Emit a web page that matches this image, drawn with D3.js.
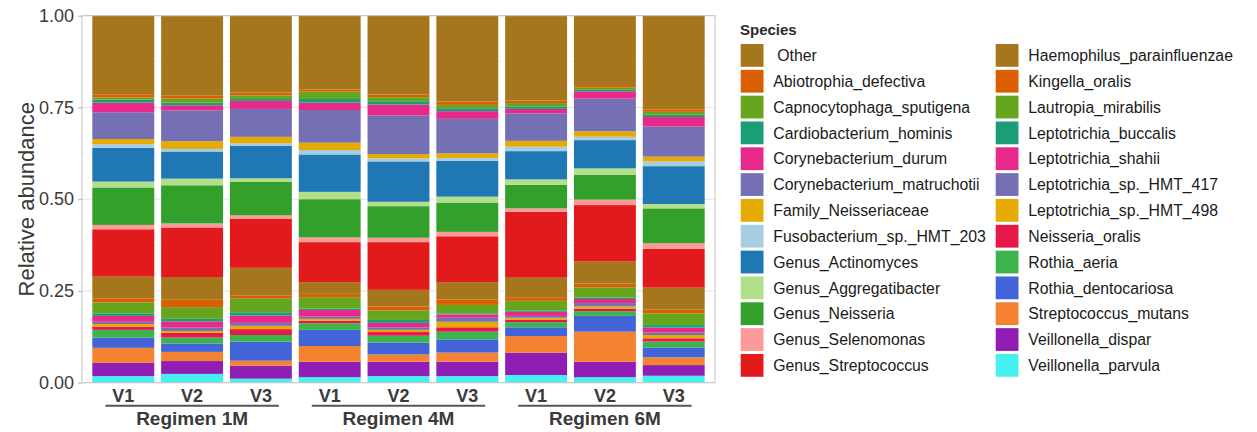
<!DOCTYPE html>
<html>
<head>
<meta charset="utf-8">
<script src="https://cdn.jsdelivr.net/npm/d3@7"></script>
<style>
  html, body { margin: 0; padding: 0; background: #fff; }
  svg { display: block; font-family: "Liberation Sans", Arial, sans-serif; }
</style>
</head>
<body>
<svg id="chart" width="1257" height="432"></svg>
<script>
// Samples: visit within regimen
const regimens = ["Regimen 1M", "Regimen 4M", "Regimen 6M"];
const visits = ["V1", "V2", "V3"];

// Legend order (top of stack first)
const species = [
  "Other", "Abiotrophia_defectiva", "Capnocytophaga_sputigena", "Cardiobacterium_hominis",
  "Corynebacterium_durum", "Corynebacterium_matruchotii", "Family_Neisseriaceae",
  "Fusobacterium_sp._HMT_203", "Genus_Actinomyces", "Genus_Aggregatibacter", "Genus_Neisseria",
  "Genus_Selenomonas", "Genus_Streptococcus", "Haemophilus_parainfluenzae", "Kingella_oralis",
  "Lautropia_mirabilis", "Leptotrichia_buccalis", "Leptotrichia_shahii", "Leptotrichia_sp._HMT_417",
  "Leptotrichia_sp._HMT_498", "Neisseria_oralis", "Rothia_aeria", "Rothia_dentocariosa",
  "Streptococcus_mutans", "Veillonella_dispar", "Veillonella_parvula"
];

const speciesColors = [
  "#A6761D", "#D95F02", "#66A61E", "#1B9E77", "#E7298A", "#7570B3", "#E6AB02",
  "#A6CEE3", "#1F78B4", "#B2DF8A", "#33A02C", "#FB9A99", "#E31A1C",
  "#A6761D", "#D95F02", "#66A61E", "#1B9E77", "#E7298A", "#7570B3", "#E6AB02",
  "#E6194B", "#3CB44B", "#4363D8", "#F58231", "#911EB4", "#46F0F0"
];

// Relative abundance per sample: 1M V1..V3, 4M V1..V3, 6M V1..V3
const other                     = [0.214, 0.217, 0.209, 0.201, 0.215, 0.234, 0.231, 0.189, 0.255];
const abiotrophiaDefectiva      = [0.009, 0.008, 0.008, 0.006, 0.007, 0.009, 0.007, 0.006, 0.007];
const capnocytophagaSputigena   = [0.006, 0.011, 0.010, 0.020, 0.011, 0.009, 0.009, 0.007, 0.008];
const cardiobacteriumHominis    = [0.008, 0.007, 0.005, 0.010, 0.009, 0.008, 0.007, 0.004, 0.006];
const corynebacteriumDurum      = [0.026, 0.014, 0.022, 0.020, 0.030, 0.021, 0.012, 0.020, 0.026];
const corynebacteriumMatruchotii= [0.073, 0.084, 0.076, 0.089, 0.105, 0.094, 0.075, 0.089, 0.082];
const familyNeisseriaceae       = [0.014, 0.021, 0.018, 0.020, 0.012, 0.013, 0.016, 0.015, 0.013];
const fusobacteriumHMT203       = [0.010, 0.007, 0.006, 0.012, 0.008, 0.007, 0.012, 0.009, 0.013];
const genusActinomyces          = [0.092, 0.074, 0.089, 0.102, 0.110, 0.098, 0.077, 0.077, 0.103];
const genusAggregatibacter      = [0.016, 0.018, 0.009, 0.020, 0.012, 0.016, 0.015, 0.018, 0.012];
const genusNeisseria            = [0.102, 0.104, 0.092, 0.104, 0.086, 0.080, 0.064, 0.067, 0.095];
const genusSelenomonas          = [0.012, 0.011, 0.010, 0.013, 0.012, 0.012, 0.009, 0.015, 0.015];
const genusStreptococcus        = [0.129, 0.135, 0.133, 0.109, 0.130, 0.125, 0.180, 0.154, 0.106];
const haemophilusParainfluenzae = [0.059, 0.062, 0.076, 0.032, 0.045, 0.047, 0.053, 0.060, 0.060];
const kingellaOralis            = [0.011, 0.020, 0.007, 0.009, 0.011, 0.015, 0.010, 0.010, 0.010];
const lautropiaMirabilis        = [0.030, 0.032, 0.038, 0.031, 0.026, 0.023, 0.027, 0.028, 0.032];
const leptotrichiaBuccalis      = [0.007, 0.007, 0.009, 0.004, 0.008, 0.003, 0.003, 0.004, 0.007];
const leptotrichiaShahii        = [0.016, 0.017, 0.020, 0.018, 0.012, 0.009, 0.011, 0.011, 0.013];
const leptotrichiaHMT417        = [0.006, 0.009, 0.008, 0.006, 0.007, 0.011, 0.005, 0.009, 0.007];
const leptotrichiaHMT498        = [0.007, 0.005, 0.009, 0.005, 0.006, 0.015, 0.005, 0.006, 0.009];
const neisseriaOralis           = [0.009, 0.013, 0.016, 0.007, 0.010, 0.012, 0.007, 0.007, 0.009];
const rothiaAeria               = [0.021, 0.016, 0.018, 0.018, 0.019, 0.021, 0.014, 0.013, 0.016];
const rothiaDentocariosa        = [0.028, 0.023, 0.052, 0.044, 0.032, 0.036, 0.024, 0.043, 0.027];
const streptococcusMutans       = [0.041, 0.025, 0.014, 0.043, 0.020, 0.025, 0.045, 0.082, 0.021];
const veillonellaDispar         = [0.036, 0.035, 0.035, 0.042, 0.039, 0.039, 0.061, 0.042, 0.029];
const veillonellaParvula        = [0.018, 0.024, 0.011, 0.015, 0.018, 0.018, 0.021, 0.015, 0.019];

const seriesValues = [
  other, abiotrophiaDefectiva, capnocytophagaSputigena, cardiobacteriumHominis,
  corynebacteriumDurum, corynebacteriumMatruchotii, familyNeisseriaceae,
  fusobacteriumHMT203, genusActinomyces, genusAggregatibacter, genusNeisseria,
  genusSelenomonas, genusStreptococcus, haemophilusParainfluenzae, kingellaOralis,
  lautropiaMirabilis, leptotrichiaBuccalis, leptotrichiaShahii, leptotrichiaHMT417,
  leptotrichiaHMT498, neisseriaOralis, rothiaAeria, rothiaDentocariosa,
  streptococcusMutans, veillonellaDispar, veillonellaParvula
];

const yTicks = [0, 0.25, 0.5, 0.75, 1];
const yMinorTicks = [0.125, 0.375, 0.625, 0.875];

// ---- build table ----
const samples = [];
regimens.forEach(r => visits.forEach(v => samples.push({ id: r + "|" + v, regimen: r, visit: v })));
const table = samples.map((s, i) => {
  const row = { id: s.id };
  species.forEach((sp, k) => { row[sp] = seriesValues[k][i]; });
  return row;
});

const svg = d3.select("#chart");
const panel = { left: 82, right: 715, top: 15.7, bottom: 382.7 };

const x = d3.scaleBand()
  .domain(samples.map(s => s.id))
  .range([panel.left, panel.right])
  .paddingInner(0.1)
  .paddingOuter(0.15);

const y = d3.scaleLinear().domain([0, 1]).range([panel.bottom, panel.top]);
const color = d3.scaleOrdinal().domain(species).range(speciesColors);

// panel background + grid
svg.append("rect")
  .attr("x", panel.left).attr("y", panel.top)
  .attr("width", panel.right - panel.left).attr("height", panel.bottom - panel.top)
  .attr("fill", "#fff");

svg.append("g").selectAll("line").data(yMinorTicks).join("line")
  .attr("x1", panel.left).attr("x2", panel.right)
  .attr("y1", d => y(d)).attr("y2", d => y(d))
  .attr("stroke", "#f0f0f0").attr("stroke-width", 0.6);
svg.append("g").selectAll("line").data(yTicks).join("line")
  .attr("x1", panel.left).attr("x2", panel.right)
  .attr("y1", d => y(d)).attr("y2", d => y(d))
  .attr("stroke", "#e3e3e3").attr("stroke-width", 1);

// stacked bars: bottom of stack is the last legend entry
const stackKeys = species.slice().reverse();
const stacked = d3.stack().keys(stackKeys)(table);

svg.append("g").selectAll("g").data(stacked).join("g")
  .attr("fill", d => color(d.key))
  .selectAll("rect").data(d => d).join("rect")
  .attr("x", d => x(d.data.id))
  .attr("width", x.bandwidth())
  .attr("y", d => y(d[1]))
  .attr("height", d => Math.max(0, y(d[0]) - y(d[1])));

// panel border
svg.append("rect")
  .attr("x", panel.left).attr("y", panel.top)
  .attr("width", panel.right - panel.left).attr("height", panel.bottom - panel.top)
  .attr("fill", "none").attr("stroke", "#c4c4c4").attr("stroke-width", 1);

// y axis
const yAxis = svg.append("g")
  .attr("transform", `translate(${panel.left},0)`)
  .call(d3.axisLeft(y).tickValues(yTicks).tickFormat(d3.format(".2f")).tickSize(4).tickPadding(4));
yAxis.select(".domain").remove();
yAxis.selectAll(".tick line").attr("stroke", "#b3b3b3");
yAxis.selectAll(".tick text")
  .attr("fill", "#3a3a3a")
  .style("font-size", "18px")
  .style("font-family", "'Liberation Sans', Arial, sans-serif");

svg.append("text")
  .attr("transform", `translate(26,${(panel.top + panel.bottom) / 2}) rotate(-90)`)
  .attr("text-anchor", "middle")
  .attr("dy", "0.35em")
  .attr("fill", "#3a3a3a")
  .style("font-size", "22px")
  .text("Relative abundance");

// x axis: visit labels with nested regimen labels
svg.append("g").selectAll("text").data(samples).join("text")
  .attr("x", d => x(d.id) + x.bandwidth() / 2)
  .attr("y", 401.5)
  .attr("text-anchor", "middle")
  .attr("fill", "#3a3a3a")
  .style("font-size", "18px")
  .style("font-weight", "bold")
  .text(d => d.visit);

const groups = regimens.map(r => {
  const ids = samples.filter(s => s.regimen === r).map(s => x(s.id) + x.bandwidth() / 2);
  return { regimen: r, x0: d3.min(ids), x1: d3.max(ids) };
});
const ext = x.step() * 0.26;

svg.append("g").selectAll("line").data(groups).join("line")
  .attr("x1", d => d.x0 - ext).attr("x2", d => d.x1 + ext)
  .attr("y1", 405.8).attr("y2", 405.8)
  .attr("stroke", "#555").attr("stroke-width", 2);

svg.append("g").selectAll("text").data(groups).join("text")
  .attr("x", d => (d.x0 + d.x1) / 2)
  .attr("y", 424.8)
  .attr("text-anchor", "middle")
  .attr("fill", "#3a3a3a")
  .style("font-size", "19px")
  .style("font-weight", "bold")
  .text(d => d.regimen);

// legend
const legend = svg.append("g");
legend.append("text")
  .attr("x", 740).attr("y", 34.5)
  .attr("fill", "#2b2b2b")
  .style("font-size", "15px").style("font-weight", "bold")
  .text("Species");

const perCol = 13, keyStep = 25.83, keySize = 22.8;
const colX = [740.7, 995.7];
const items = legend.selectAll("g.item").data(species).join("g")
  .attr("class", "item")
  .attr("transform", (d, i) => `translate(${colX[Math.floor(i / perCol)]},${44 + (i % perCol) * keyStep})`);
items.append("rect")
  .attr("width", keySize).attr("height", keySize)
  .attr("fill", d => color(d));
items.append("text")
  .attr("x", (d, i) => i === 0 ? 36.5 : 32.6)
  .attr("y", keySize / 2)
  .attr("dy", "0.36em")
  .attr("fill", "#1a1a1a")
  .style("font-size", "15.8px")
  .text(d => d);
</script>
</body>
</html>
